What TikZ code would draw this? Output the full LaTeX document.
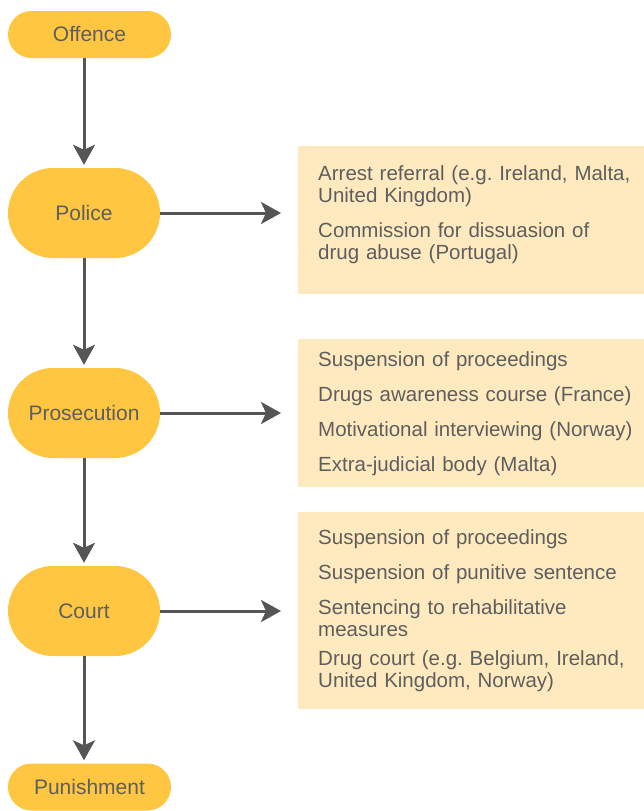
\documentclass[tikz,border=0pt]{standalone}
\usepackage{fontspec}
\setmainfont{Liberation Sans}
\frenchspacing
\usetikzlibrary{arrows.meta}
\definecolor{stagefill}{HTML}{FFC641}
\definecolor{boxfill}{HTML}{FFEAC0}
\definecolor{flowgrey}{HTML}{555555}
\definecolor{textgrey}{HTML}{5E5E5E}
\begin{document}
\begin{tikzpicture}[x=1pt,y=-1pt,
  stage/.style={fill=stagefill, text=textgrey, font=\fontsize{21}{24}\selectfont, minimum width=152pt, minimum height=90pt, rounded corners=45pt},
  endstage/.style={stage, minimum width=163pt, minimum height=47pt, rounded corners=23.5pt},
  measures/.style={fill=boxfill, text=textgrey, font=\fontsize{20.5}{22}\selectfont, anchor=north west, align=left, text width=320pt, inner xsep=20pt, minimum height=148pt},
  flow/.style={draw=flowgrey, line width=3pt, -{Stealth[length=20pt,width=22pt,inset=5pt]}}]

\useasboundingbox (0,0) rectangle (644,811);

\node[endstage] (offence) at (89.5,34.5) {Offence};

\node[stage] (police) at (84,213) {Police};

\node[stage] (prosecution) at (84,413) {Prosecution};

\node[stage] (court) at (84,611) {Court};

\node[endstage] (punishment) at (89.5,787) {Punishment};

\node[measures] (policebox) at (298,146) {Arrest referral (e.g. Ireland, Malta,\\United Kingdom)\\[13pt]Commission for dissuasion of\\drug abuse (Portugal)\\[-6pt]\mbox{}};

\node[measures] (prosecutionbox) at (298,339) {Suspension of proceedings\\[13pt]Drugs awareness course (France)\\[13pt]Motivational interviewing (Norway)\\[13pt]Extra-judicial body (Malta)};

\node[measures, minimum height=197pt] (courtbox) at (298,512) {Suspension of proceedings\\[13pt]Suspension of punitive sentence\\[13pt]Sentencing to rehabilitative\\measures\\[7pt]Drug court (e.g. Belgium, Ireland,\\United Kingdom, Norway)};

\draw[flow, shorten >=3pt] (police |- offence.south) -- (police.north);

\draw[flow, shorten >=3pt] (police.south) -- (prosecution.north);

\draw[flow, shorten >=3pt] (prosecution.south) -- (court.north);

\draw[flow, shorten >=3pt] (court.south) -- (court.south |- punishment.north);

\draw[flow, shorten >=17pt] (police.east) -- (police.east -| policebox.west);

\draw[flow, shorten >=17pt] (prosecution.east) -- (prosecution.east -| prosecutionbox.west);

\draw[flow, shorten >=17pt] (court.east) -- (court.east -| courtbox.west);

\end{tikzpicture}
\end{document}
